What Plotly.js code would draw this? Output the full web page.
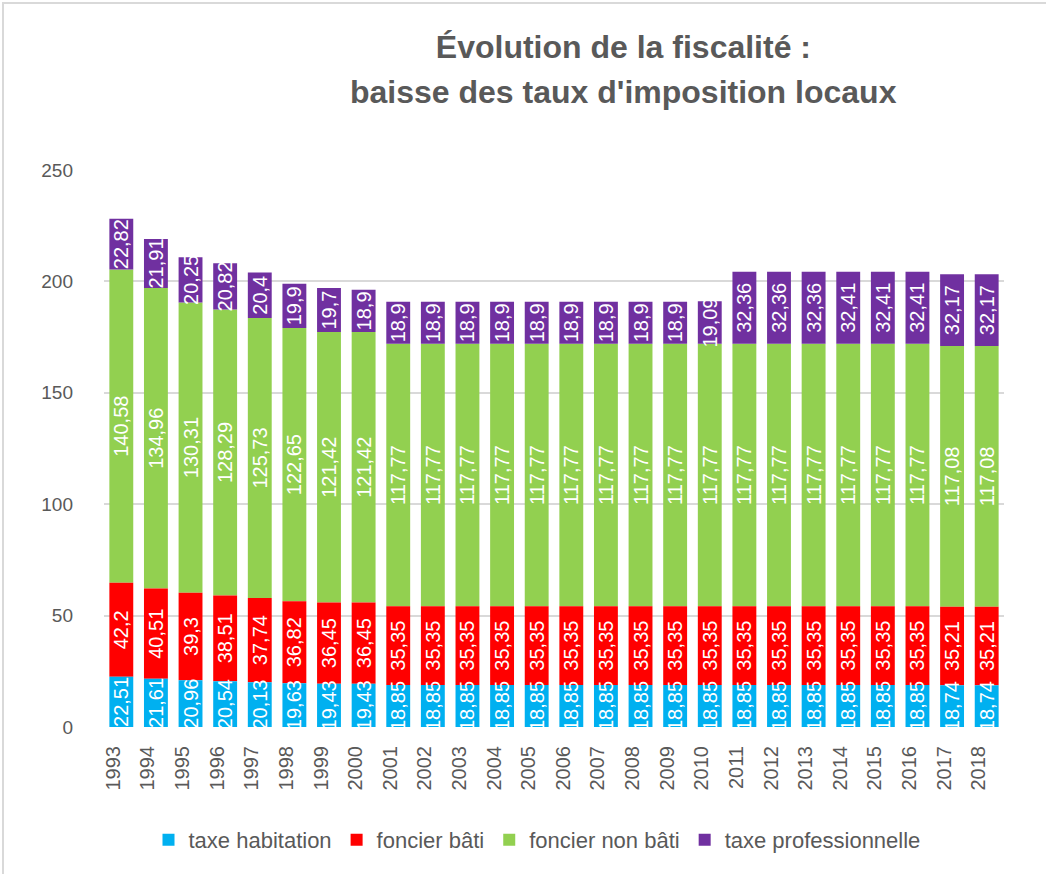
<!DOCTYPE html>
<html>
<head>
<meta charset="utf-8">
<script src="https://cdn.plot.ly/plotly-3.0.1.min.js"></script>
<style>
  html, body { margin: 0; padding: 0; background: #ffffff; }
  #wrap { position: relative; width: 1046px; height: 874px; }
  #chart { width: 1046px; height: 874px; }
  #frame { position: absolute; left: 2px; top: 2px; width: 1100px; height: 1000px;
           border-left: 2px solid #d9d9d9; border-top: 2px solid #d9d9d9; pointer-events: none; }
</style>
</head>
<body>
<div id="wrap">
  <div id="chart"></div>
  <div id="frame"></div>
</div>
<script>
const years = ["1993","1994","1995","1996","1997","1998","1999","2000","2001","2002","2003","2004","2005",
  "2006","2007","2008","2009","2010","2011","2012","2013","2014","2015","2016","2017","2018"];

const taxeHabitation = [22.51, 21.61, 20.96, 20.54, 20.13, 19.63, 19.43, 19.43, 18.85, 18.85, 18.85, 18.85, 18.85,
  18.85, 18.85, 18.85, 18.85, 18.85, 18.85, 18.85, 18.85, 18.85, 18.85, 18.85, 18.74, 18.74];

const foncierBati = [42.2, 40.51, 39.3, 38.51, 37.74, 36.82, 36.45, 36.45, 35.35, 35.35, 35.35, 35.35, 35.35,
  35.35, 35.35, 35.35, 35.35, 35.35, 35.35, 35.35, 35.35, 35.35, 35.35, 35.35, 35.21, 35.21];

const foncierNonBati = [140.58, 134.96, 130.31, 128.29, 125.73, 122.65, 121.42, 121.42, 117.77, 117.77, 117.77, 117.77, 117.77,
  117.77, 117.77, 117.77, 117.77, 117.77, 117.77, 117.77, 117.77, 117.77, 117.77, 117.77, 117.08, 117.08];

const taxePro = [22.82, 21.91, 20.25, 20.82, 20.4, 19.9, 19.7, 18.9, 18.9, 18.9, 18.9, 18.9, 18.9,
  18.9, 18.9, 18.9, 18.9, 19.09, 32.36, 32.36, 32.36, 32.41, 32.41, 32.41, 32.17, 32.17];

const seriesNames = ["taxe habitation", "foncier bâti", "foncier non bâti", "taxe professionnelle"];
const seriesColors = ["#00B0F0", "#FF0000", "#92D050", "#7030A0"];
const seriesValues = [taxeHabitation, foncierBati, foncierNonBati, taxePro];

const FONT = "'Liberation Sans', Arial, sans-serif";
const GREY = "#595959";

const fmt = v => String(v).replace(".", ",");

// stacked bases computed from the series (bottom to top)
const bases = [];
let acc = years.map(() => 0);
seriesValues.forEach((vals, i) => {
  bases.push(acc.slice());
  acc = acc.map((a, j) => a + vals[j]);
});

const makeTrace = i => ({
  type: "bar",
  name: seriesNames[i],
  legendrank: i + 1,
  x: years,
  y: seriesValues[i],
  base: bases[i],
  text: seriesValues[i].map(fmt),
  textposition: "inside",
  insidetextanchor: "middle",
  textangle: -90,
  constraintext: "none",
  cliponaxis: false,
  textfont: { family: FONT, size: 20, color: "#ffffff" },
  marker: { color: seriesColors[i], line: { width: 0 } },
  hoverinfo: "x+y+name"
});

// drawing order so that overflowing labels stay visible (blue over red, purple over green)
const drawOrder = [2, 1, 0, 3];
const traces = drawOrder.map(makeTrace);

const layout = {
  width: 1046,
  height: 874,
  barmode: "overlay",
  bargap: 0.31,
  paper_bgcolor: "#ffffff",
  plot_bgcolor: "#ffffff",
  font: { family: FONT, color: GREY },
  margin: { l: 104, r: 42, t: 170, b: 147 },
  title: {
    text: "<b>Évolution de la fiscalité :</b>",
    font: { family: FONT, size: 32, color: GREY },
    xref: "container", x: 0.596, xanchor: "center",
    yref: "container", y: 1 - 47 / 874, yanchor: "middle"
  },
  annotations: [{
    text: "<b>baisse des taux d'imposition locaux</b>",
    font: { family: FONT, size: 32, color: GREY },
    xref: "paper", yref: "paper",
    x: (623 - 104) / 900, y: (727 - 92) / 557,
    xanchor: "center", yanchor: "middle",
    showarrow: false
  }],
  xaxis: {
    type: "category",
    tickangle: -90,
    tickfont: { family: FONT, size: 20, color: GREY },
    showgrid: false,
    showline: false,
    ticks: "",
    ticklabelstandoff: 14,
    ticklabelshift: -8
  },
  yaxis: {
    range: [0, 250],
    tickvals: [0, 50, 100, 150, 200, 250],
    tickfont: { family: FONT, size: 19, color: GREY },
    gridcolor: "#d9d9d9",
    gridwidth: 2,
    zeroline: false,
    showline: false,
    ticks: "",
    ticklabelstandoff: 30
  },
  legend: {
    orientation: "h",
    xref: "container", x: 537 / 1046, xanchor: "center",
    yref: "container", y: 1 - 840 / 874, yanchor: "middle",
    font: { family: FONT, size: 22, color: GREY },
    itemwidth: 30
  },
  showlegend: true
};

Plotly.newPlot("chart", traces, layout, { displayModeBar: false, staticPlot: true });
</script>
</body>
</html>
